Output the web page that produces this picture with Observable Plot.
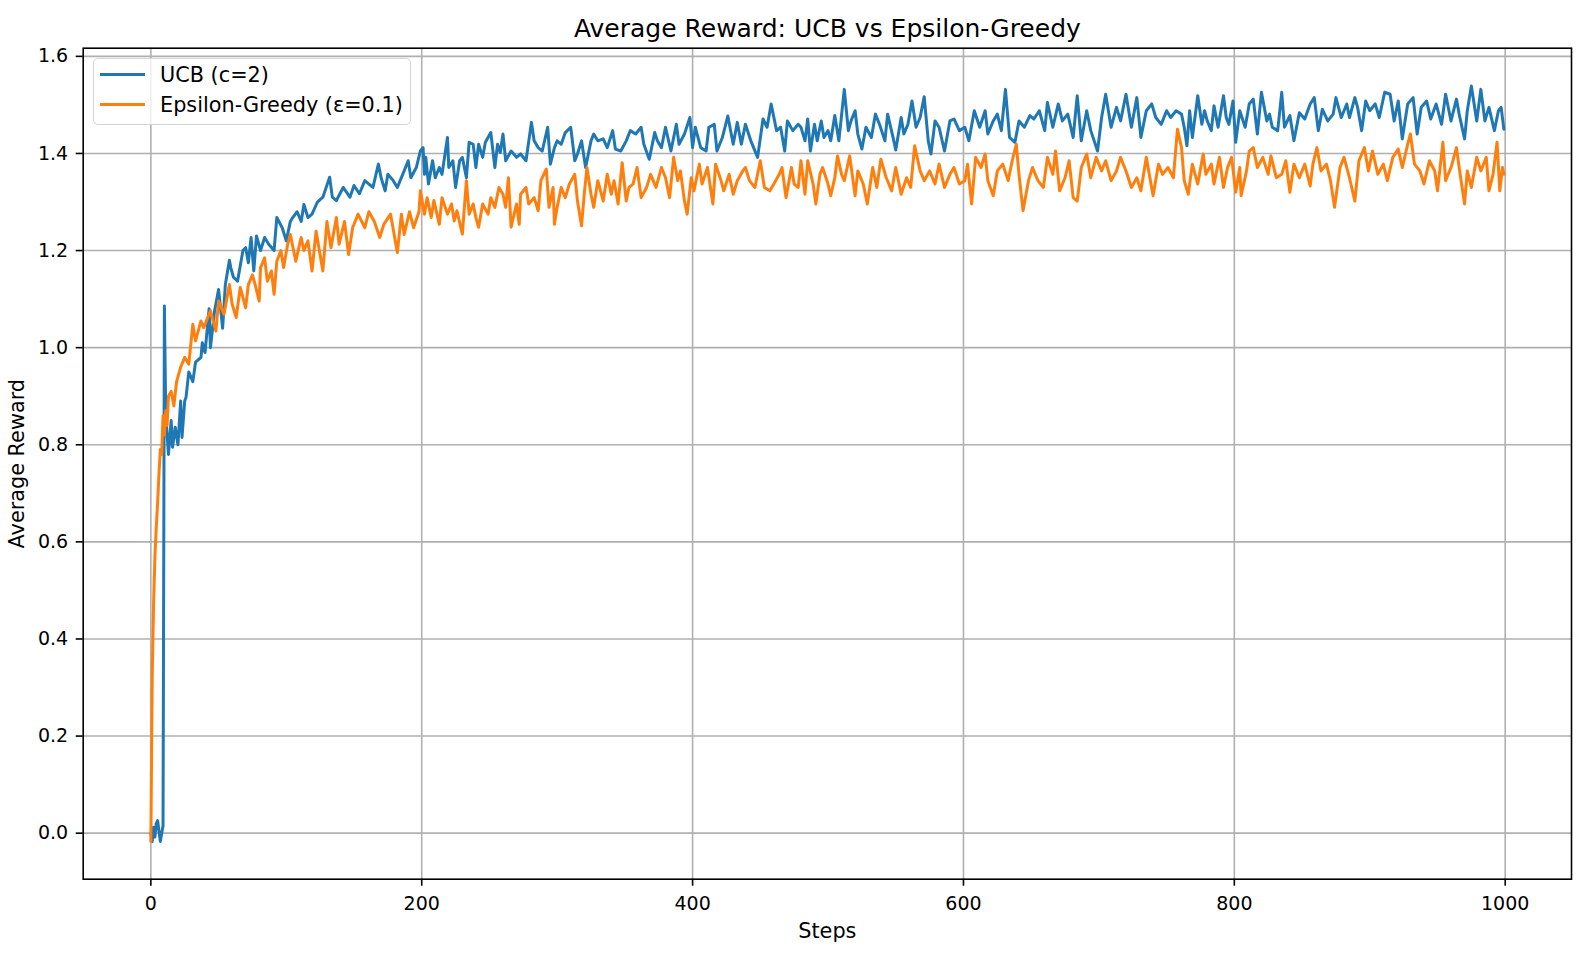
<!DOCTYPE html>
<html><head><meta charset="utf-8">
<script src="https://cdn.jsdelivr.net/npm/d3@7"></script>
<script src="https://cdn.jsdelivr.net/npm/@observablehq/plot@0.6"></script>
<style>
body{margin:0;background:#fff;font-family:"DejaVu Sans",sans-serif;}
#wrap{position:relative;width:1590px;height:964px;}
#legend{position:absolute;left:93px;top:58px;width:318px;height:67px;box-sizing:border-box;border:1.5px solid #d4d4d4;border-radius:5px;background:rgba(255,255,255,0.8);font-size:20.8px;color:#000;}
.row{position:absolute;left:6px;height:26px;display:flex;align-items:center;white-space:nowrap;}
.sw{width:45px;height:3px;margin-right:15px;}
</style></head>
<body>
<div id="wrap"></div>
<script>
const title = "Average Reward: UCB vs Epsilon-Greedy";
const xLabel = "Steps";
const yLabel = "Average Reward";
const seriesNames = ["UCB (c=2)", "Epsilon-Greedy (ε=0.1)"];
const seriesColors = ["#1f77b4", "#ff7f0e"];
const xTicks = [0, 200, 400, 600, 800, 1000];
const yTicks = [0.0, 0.2, 0.4, 0.6, 0.8, 1.0, 1.2, 1.4, 1.6];

// [step, average reward]
const ucb = [[0,0.0],[1,-0.017],[2,0.012],[3,-0.008],[4,0.02],[5,0.026],[6,0.004],[7,-0.017],[8,0.0],[9,0.015],[10,1.086],[11,0.864],[13,0.78],[15,0.85],[16,0.795],[18,0.836],[20,0.80],[22,0.89],[23,0.815],[25,0.89],[26,0.898],[28,0.95],[31,0.93],[33,0.97],[37,0.98],[38,1.01],[40,0.99],[43,1.08],[44,1.0],[47,1.075],[50,1.12],[53,1.04],[55,1.13],[58,1.18],[59,1.165],[61,1.145],[64,1.137],[68,1.2],[70,1.206],[72,1.175],[74,1.227],[76,1.158],[78,1.23],[81,1.2],[84,1.227],[87,1.213],[91,1.2],[93,1.268],[97,1.247],[100,1.22],[103,1.26],[105,1.269],[108,1.28],[111,1.26],[113,1.295],[116,1.268],[119,1.275],[123,1.3],[127,1.31],[132,1.351],[134,1.31],[137,1.303],[142,1.33],[147,1.31],[150,1.334],[154,1.317],[158,1.344],[161,1.337],[164,1.33],[168,1.378],[170,1.35],[173,1.323],[175,1.357],[179,1.344],[182,1.33],[186,1.357],[190,1.385],[192,1.35],[196,1.371],[199,1.405],[201,1.412],[202,1.357],[203,1.392],[205,1.337],[208,1.385],[210,1.35],[213,1.371],[215,1.357],[217,1.395],[219,1.433],[220,1.371],[223,1.385],[225,1.33],[228,1.385],[230,1.392],[233,1.35],[235,1.423],[238,1.419],[240,1.371],[242,1.419],[245,1.392],[247,1.423],[251,1.443],[254,1.371],[256,1.419],[258,1.402],[260,1.44],[262,1.385],[266,1.405],[270,1.392],[273,1.399],[277,1.385],[281,1.464],[283,1.426],[286,1.412],[289,1.405],[293,1.454],[295,1.378],[298,1.412],[300,1.426],[303,1.419],[306,1.443],[310,1.454],[313,1.385],[315,1.399],[318,1.426],[321,1.371],[325,1.426],[327,1.44],[330,1.426],[334,1.43],[337,1.412],[341,1.447],[343,1.409],[347,1.405],[351,1.426],[354,1.447],[358,1.44],[362,1.454],[364,1.419],[368,1.388],[372,1.443],[374,1.426],[377,1.412],[380,1.454],[384,1.405],[388,1.46],[390,1.419],[394,1.44],[398,1.474],[400,1.412],[402,1.454],[406,1.412],[410,1.405],[412,1.454],[416,1.46],[418,1.405],[422,1.433],[426,1.477],[430,1.419],[433,1.464],[436,1.419],[439,1.46],[443,1.426],[448,1.392],[452,1.471],[455,1.454],[458,1.502],[462,1.447],[465,1.454],[468,1.405],[470,1.467],[474,1.447],[478,1.46],[480,1.454],[483,1.426],[485,1.471],[487,1.405],[490,1.46],[492,1.426],[495,1.467],[497,1.433],[500,1.447],[502,1.426],[505,1.478],[508,1.426],[512,1.532],[515,1.447],[517,1.467],[520,1.488],[522,1.44],[525,1.409],[528,1.454],[532,1.433],[535,1.481],[538,1.46],[542,1.426],[544,1.481],[548,1.433],[550,1.407],[554,1.474],[556,1.44],[559,1.46],[562,1.508],[565,1.454],[568,1.474],[571,1.517],[574,1.426],[576,1.399],[579,1.467],[582,1.454],[586,1.405],[590,1.467],[593,1.471],[597,1.447],[601,1.454],[604,1.426],[608,1.488],[612,1.454],[616,1.488],[618,1.44],[622,1.467],[625,1.481],[628,1.447],[631,1.532],[634,1.433],[638,1.423],[641,1.467],[645,1.454],[649,1.478],[652,1.471],[656,1.488],[660,1.447],[662,1.505],[666,1.454],[670,1.502],[673,1.467],[677,1.481],[681,1.433],[684,1.519],[687,1.426],[691,1.488],[694,1.447],[699,1.405],[702,1.474],[705,1.522],[709,1.454],[713,1.495],[716,1.467],[720,1.522],[724,1.454],[728,1.515],[731,1.433],[735,1.488],[739,1.502],[742,1.474],[746,1.46],[750,1.488],[753,1.474],[757,1.488],[761,1.481],[763,1.454],[765,1.416],[767,1.488],[769,1.433],[773,1.519],[776,1.46],[778,1.488],[780,1.467],[783,1.447],[785,1.498],[788,1.454],[792,1.519],[794,1.474],[796,1.46],[799,1.508],[801,1.423],[804,1.488],[808,1.454],[811,1.502],[814,1.512],[817,1.44],[820,1.526],[824,1.467],[826,1.481],[828,1.454],[832,1.447],[835,1.526],[837,1.454],[841,1.478],[844,1.426],[848,1.484],[852,1.471],[856,1.502],[859,1.515],[862,1.447],[865,1.491],[869,1.467],[873,1.481],[875,1.515],[879,1.474],[883,1.502],[885,1.474],[889,1.515],[891,1.495],[894,1.447],[897,1.508],[900,1.488],[904,1.502],[907,1.474],[911,1.526],[915,1.522],[918,1.467],[921,1.508],[924,1.43],[928,1.502],[932,1.515],[935,1.44],[938,1.495],[942,1.508],[945,1.471],[949,1.502],[953,1.46],[956,1.522],[960,1.467],[964,1.512],[966,1.481],[970,1.43],[972,1.488],[975,1.539],[979,1.467],[982,1.532],[985,1.467],[988,1.495],[992,1.447],[995,1.488],[997,1.495],[999,1.45]];

const epsGreedy = [[0,-0.017],[1,0.32],[2,0.47],[3,0.57],[4,0.63],[5,0.68],[6,0.74],[7,0.79],[8,0.78],[9,0.86],[10,0.82],[11,0.87],[12,0.84],[13,0.9],[15,0.91],[17,0.88],[19,0.93],[22,0.96],[25,0.98],[28,0.966],[31,1.048],[33,1.014],[37,1.055],[39,1.041],[42,1.062],[44,1.076],[48,1.034],[50,1.096],[54,1.069],[58,1.13],[60,1.09],[63,1.062],[66,1.124],[70,1.082],[72,1.13],[75,1.15],[77,1.13],[80,1.096],[81,1.165],[84,1.185],[86,1.137],[89,1.158],[91,1.11],[93,1.178],[96,1.2],[98,1.165],[101,1.213],[103,1.233],[107,1.178],[111,1.227],[113,1.2],[116,1.22],[119,1.158],[122,1.24],[127,1.158],[130,1.26],[133,1.206],[137,1.268],[139,1.213],[143,1.26],[146,1.192],[149,1.247],[153,1.275],[158,1.247],[161,1.28],[165,1.26],[169,1.227],[172,1.254],[177,1.275],[182,1.196],[185,1.275],[187,1.233],[191,1.28],[194,1.247],[198,1.28],[199,1.323],[202,1.275],[204,1.309],[207,1.268],[209,1.303],[213,1.254],[215,1.309],[219,1.275],[222,1.296],[224,1.261],[226,1.282],[230,1.234],[233,1.344],[235,1.275],[238,1.296],[240,1.268],[242,1.248],[245,1.296],[249,1.275],[251,1.309],[254,1.289],[257,1.33],[260,1.316],[262,1.289],[264,1.35],[266,1.248],[270,1.296],[272,1.254],[273,1.316],[277,1.33],[279,1.296],[283,1.309],[286,1.282],[288,1.344],[292,1.368],[294,1.289],[297,1.33],[298,1.254],[300,1.289],[303,1.33],[306,1.309],[309,1.337],[313,1.357],[315,1.302],[318,1.251],[320,1.316],[322,1.371],[325,1.316],[327,1.289],[330,1.344],[334,1.302],[337,1.357],[340,1.316],[342,1.344],[345,1.296],[348,1.381],[351,1.302],[353,1.33],[356,1.337],[359,1.371],[362,1.309],[366,1.33],[369,1.357],[373,1.33],[377,1.371],[380,1.35],[383,1.309],[386,1.392],[389,1.344],[391,1.364],[394,1.302],[396,1.275],[399,1.35],[401,1.323],[405,1.378],[407,1.337],[411,1.371],[415,1.296],[417,1.378],[421,1.344],[423,1.323],[427,1.357],[430,1.316],[433,1.344],[437,1.364],[439,1.371],[442,1.344],[446,1.33],[450,1.385],[453,1.33],[457,1.323],[460,1.337],[464,1.357],[466,1.371],[469,1.309],[473,1.371],[475,1.337],[478,1.33],[480,1.385],[483,1.316],[485,1.385],[489,1.337],[491,1.296],[494,1.357],[496,1.371],[500,1.337],[502,1.313],[505,1.35],[507,1.395],[510,1.357],[512,1.344],[516,1.395],[520,1.313],[522,1.364],[526,1.337],[529,1.296],[533,1.371],[536,1.33],[539,1.388],[543,1.35],[547,1.323],[550,1.371],[554,1.316],[558,1.35],[561,1.33],[564,1.416],[568,1.364],[571,1.344],[575,1.364],[579,1.337],[582,1.378],[586,1.33],[590,1.357],[593,1.371],[597,1.337],[601,1.344],[603,1.378],[606,1.296],[609,1.392],[613,1.371],[616,1.399],[618,1.344],[622,1.313],[625,1.364],[629,1.378],[633,1.344],[636,1.385],[639,1.419],[641,1.357],[644,1.282],[648,1.344],[651,1.371],[655,1.344],[659,1.33],[662,1.392],[666,1.357],[668,1.405],[671,1.323],[675,1.35],[678,1.385],[681,1.309],[684,1.302],[687,1.371],[691,1.399],[694,1.35],[698,1.392],[702,1.364],[705,1.385],[709,1.344],[713,1.364],[716,1.392],[720,1.364],[724,1.33],[728,1.35],[731,1.323],[735,1.392],[740,1.313],[744,1.378],[747,1.357],[751,1.371],[755,1.35],[758,1.45],[761,1.412],[763,1.344],[766,1.316],[769,1.378],[773,1.337],[777,1.399],[779,1.357],[783,1.378],[785,1.337],[789,1.392],[792,1.33],[795,1.371],[798,1.392],[801,1.32],[804,1.371],[805,1.313],[809,1.364],[811,1.405],[814,1.412],[817,1.371],[821,1.392],[825,1.357],[827,1.395],[831,1.35],[835,1.357],[838,1.385],[841,1.32],[844,1.378],[848,1.35],[852,1.378],[856,1.333],[858,1.378],[861,1.412],[864,1.364],[868,1.378],[871,1.344],[874,1.289],[878,1.371],[881,1.392],[885,1.35],[889,1.302],[892,1.385],[896,1.412],[899,1.364],[902,1.405],[906,1.357],[910,1.378],[913,1.344],[917,1.392],[921,1.409],[924,1.371],[928,1.419],[930,1.44],[933,1.378],[937,1.364],[940,1.337],[944,1.385],[948,1.364],[950,1.323],[954,1.423],[956,1.344],[960,1.371],[964,1.412],[966,1.371],[970,1.296],[972,1.364],[975,1.33],[979,1.392],[982,1.364],[986,1.392],[988,1.323],[991,1.357],[994,1.423],[996,1.323],[998,1.371],[999,1.357]];

const chart = Plot.plot({
  width: 1590, height: 964,
  marginLeft: 82.7, marginRight: 19, marginTop: 47.7, marginBottom: 85.3,
  style: {fontFamily: "DejaVu Sans", fontSize: "19px", color: "#000", background: "#fff"},
  x: {domain: [-49.95, 1048.95]},
  y: {domain: [-0.0948, 1.6168]},
  marks: [
    Plot.gridX(xTicks, {stroke: "#b0b0b0", strokeOpacity: 1, strokeWidth: 1.6}),
    Plot.gridY(yTicks, {stroke: "#b0b0b0", strokeOpacity: 1, strokeWidth: 1.6}),
    Plot.line(ucb, {x: d => d[0], y: d => d[1], stroke: seriesColors[0], strokeWidth: 3, strokeLinejoin: "round"}),
    Plot.line(epsGreedy, {x: d => d[0], y: d => d[1], stroke: seriesColors[1], strokeWidth: 3, strokeLinejoin: "round"}),
    Plot.frame({stroke: "#000", strokeWidth: 1.6}),
    Plot.axisX(xTicks, {tickSize: 7, tickPadding: 10, strokeWidth: 1.6, label: null, tickFormat: d => String(d)}),
    Plot.axisY(yTicks, {tickSize: 7, tickPadding: 8, strokeWidth: 1.6, label: null, tickFormat: d => d.toFixed(1)}),
    Plot.text([title], {text: d => d, frameAnchor: "top", lineAnchor: "middle", textAnchor: "middle", dy: -19.5, fontSize: 25}),
    Plot.text([xLabel], {text: d => d, frameAnchor: "bottom", lineAnchor: "middle", textAnchor: "middle", dy: 52, fontSize: 20.8}),
    Plot.text([yLabel], {text: d => d, frameAnchor: "left", lineAnchor: "middle", textAnchor: "middle", dx: -66, rotate: -90, fontSize: 20.8})
  ]
});
const wrap = document.getElementById("wrap");
wrap.appendChild(chart);
const legend = document.createElement("div");
legend.id = "legend";
seriesNames.forEach((name, i) => {
  const row = document.createElement("div");
  row.className = "row";
  row.style.top = (i === 0 ? 2.5 : 32.8) + "px";
  const sw = document.createElement("div");
  sw.className = "sw";
  sw.style.background = seriesColors[i];
  const t = document.createElement("span");
  t.textContent = name;
  row.appendChild(sw); row.appendChild(t);
  legend.appendChild(row);
});
wrap.appendChild(legend);
</script>
</body></html>
